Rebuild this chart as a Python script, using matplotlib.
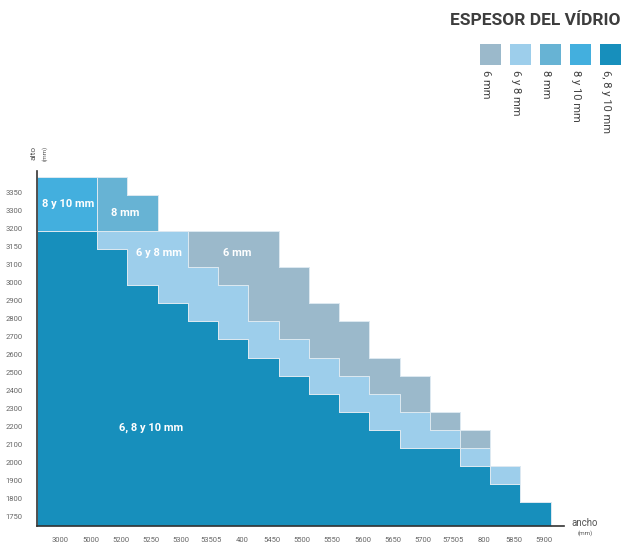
import numpy as np
import matplotlib.pyplot as plt
from matplotlib.patches import Rectangle

plt.rcParams["font.family"] = ["Roboto", "DejaVu Sans"]

W, H = 623, 545

ancho = ["3000", "5000", "5200", "5250", "5300", "53505", "400", "5450", "5500",
         "5550", "5600", "5650", "5700", "57505", "800", "5850", "5900"]
alto = ["1750", "1800", "1900", "2000", "2100", "2200", "2300", "2400", "2500", "2600",
        "2700", "2800", "2900", "3000", "3100", "3150", "3200", "3300", "3350"]

# legend order
espesores = ["6 mm", "6 y 8 mm", "8 mm", "8 y 10 mm", "6, 8 y 10 mm"]
colores = ["#9bb9cb", "#9dceeb", "#67b3d4", "#43afde", "#178fbc"]

# rows taken by each thickness in every column, stacked from the bottom
filas_6_8_10 = [16, 16, 15, 13, 12, 11, 10, 9, 8, 7, 6, 5, 4, 4, 3, 2, 1]
filas_6_8 = [0, 0, 1, 3, 4, 3, 3, 2, 2, 2, 2, 2, 2, 1, 1, 1, 0]
filas_6 = [0, 0, 0, 0, 0, 2, 3, 5, 4, 3, 3, 2, 2, 1, 1, 0, 0]
filas_8 = [0, 0, 3, 2, 0, 0, 0, 0, 0, 0, 0, 0, 0, 0, 0, 0, 0]
filas_8_10 = [3, 3, 0, 0, 0, 0, 0, 0, 0, 0, 0, 0, 0, 0, 0, 0, 0]

capas = [
    ("6, 8 y 10 mm", filas_6_8_10),
    ("6 y 8 mm", filas_6_8),
    ("6 mm", filas_6),
    ("8 mm", filas_8),
    ("8 y 10 mm", filas_8_10),
]
color_de = dict(zip(espesores, colores))

# where the region names sit, in column / row units
etiquetas = {
    "8 y 10 mm": (1.03, 17.5),
    "8 mm": (2.92, 17.0),
    "6 y 8 mm": (4.04, 14.8),
    "6 mm": (6.62, 14.8),
    "6, 8 y 10 mm": (3.77, 5.1),
}


def fx(px):
    return px / W


def fy(py):
    return 1 - py / H


fig = plt.figure(figsize=(W / 100, H / 100), dpi=100)
ax = fig.add_axes([fx(36.7), fy(526), (564 - 36.7) / W, (526 - 171) / H])

y0, y1 = -0.36, len(alto) + 0.36
ax.set_xlim(0, len(ancho) + 0.44)
ax.set_ylim(y0, y1)

n = len(ancho)
x = np.arange(n + 1)
base = np.zeros(n)
for i, (nombre, filas) in enumerate(capas):
    filas = np.array(filas, dtype=float)
    top = base + filas
    low = np.full(n, y0) if i == 0 else base
    has = filas > 0
    where = np.append(has, False) | np.insert(has, 0, False)
    ax.fill_between(x, np.append(low, low[-1]), np.append(top, top[-1]), step="post",
                    where=where, facecolor=color_de[nombre], edgecolor="#dde9f1",
                    linewidth=0.7, zorder=1)
    base = top

for nombre, (cx, cy) in etiquetas.items():
    ax.text(cx, cy, nombre, color="white", fontsize=8, fontweight="bold",
            ha="center", va="center", zorder=3)

ax.set_xticks(np.arange(n) + 0.78, ancho)
ax.set_yticks(np.arange(len(alto)) + 0.17, alto)
ax.tick_params(axis="both", length=0, labelsize=5.5, colors="#666666")
ax.tick_params(axis="x", pad=8)
ax.tick_params(axis="y", pad=10)

for s in ["top", "right"]:
    ax.spines[s].set_visible(False)
for s in ["left", "bottom"]:
    ax.spines[s].set_color("#333333")
    ax.spines[s].set_linewidth(1.2)

# axis names
fig.text(fx(585), fy(523), "ancho", fontsize=7, color="#555555", ha="center", va="center")
fig.text(fx(585), fy(533), "(mm)", fontsize=4.5, color="#555555", ha="center", va="center")
fig.text(fx(34), fy(153), "alto", fontsize=6, color="#555555", rotation=90,
         ha="center", va="center")
fig.text(fx(45), fy(153), "(mm)", fontsize=4.5, color="#555555", rotation=90,
         ha="center", va="center")

# title and legend
fig.text(fx(621), fy(20.5), "ESPESOR DEL VÍDRIO", fontsize=12.5, fontweight="bold",
         color="#3d3d3d", ha="right", va="center")
for k, (nombre, color) in enumerate(zip(espesores, colores)):
    left = 480 + 30 * k
    fig.patches.append(Rectangle((fx(left), fy(65)), 21 / W, 21 / H, facecolor=color,
                                 edgecolor="none", transform=fig.transFigure, figure=fig))
    fig.text(fx(left + 6), fy(70), nombre, fontsize=8, color="#444444", rotation=270,
             ha="center", va="top")

fig.savefig("out.png", dpi=100)
